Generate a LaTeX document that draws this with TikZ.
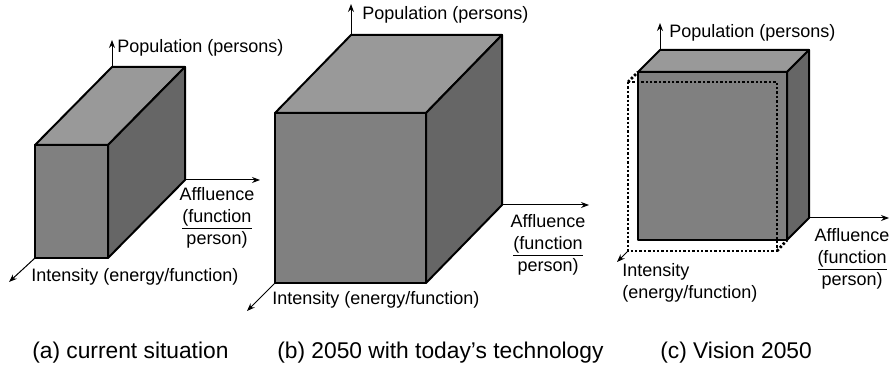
\documentclass[tikz,border=0pt]{standalone}
\usepackage{fontspec}
\setmainfont{Liberation Sans}
\usetikzlibrary{arrows.meta}
\usetikzlibrary{calc}
\usetikzlibrary{positioning}

\definecolor{topgray}{gray}{0.60}
\definecolor{frontgray}{gray}{0.50}
\definecolor{sidegray}{gray}{0.40}

\tikzset{
    edge/.style = {draw = black, line width = 0.5mm, line join = round},
    axis/.style = {line width = 0.25mm, -{Stealth[length = 2mm, width = 1.5mm]}},
    lbl/.style = {inner sep = 0pt, font = \fontsize{12.8}{15.8}\selectfont, align = center},
    capt/.style = {inner sep = 0pt, anchor = base west, font = \fontsize{16.2}{19}\selectfont},
    hint/.style = {line width = 0.7mm, dash pattern = on 0.6mm off 0.5mm}
}

\begin{document}
\begin{tikzpicture}
    [   x = 0.25mm, y = -0.25mm
    ,   > = Stealth
    ]
    \useasboundingbox (0,0) rectangle (891,366);

    % (a) current situation
    \coordinate (aP) at (112,67);
    \coordinate (aA) at (185,180);
    \coordinate (aI) at (35,258);
    \fill[topgray, edge] (35,145) -- (112,67) -- (185,67) -- (108,145) -- cycle;
    \fill[sidegray, edge] (108,145) -- (185,67) -- (185,180) -- (108,258) -- cycle;
    \fill[frontgray, edge] (35,145) rectangle (108,258);
    \coordinate (aPend) at (112,40);
    \coordinate (aAend) at (260,180);
    \coordinate (aIend) at (9,282);
    \draw[axis] (aP) -- (aPend);
    \draw[axis] (aA) -- (aAend);
    \draw[axis] (aI) -- (aIend);
    \node[lbl, anchor = west] (aPop) at (117,48) {Population (persons)};
    \node[lbl, anchor = north] (aAff) at (217,187)
    {Affluence\\\underline{(function}\\person)};
    \node[lbl, anchor = west] (aInt) at (31,277) {Intensity (energy/function)};

    % (b) 2050 with today's technology
    \coordinate (bP) at (351,35);
    \coordinate (bA) at (502,205);
    \coordinate (bI) at (275,283);
    \fill[topgray, edge] (275,113) -- (351,35) -- (502,35) -- (426,113) -- cycle;
    \fill[sidegray, edge] (426,113) -- (502,35) -- (502,205) -- (426,283) -- cycle;
    \fill[frontgray, edge] (275,113) rectangle (426,283);
    \coordinate (bPend) at (351,4);
    \coordinate (bAend) at (589,205);
    \coordinate (bIend) at (247,311);
    \draw[axis] (bP) -- (bPend);
    \draw[axis] (bA) -- (bAend);
    \draw[axis] (bI) -- (bIend);
    \node[lbl, anchor = west] (bPop) at (362,15) {Population (persons)};
    \node[lbl, anchor = north] (bAff) at (548,214)
    {Affluence\\\underline{(function}\\person)};
    \node[lbl, anchor = west] (bInt) at (272,300) {Intensity (energy/function)};

    % (c) Vision 2050
    \coordinate (cP) at (660,50);
    \coordinate (cA) at (809,218);
    \coordinate (cI) at (628,251);
    \fill[topgray, edge] (638,72) -- (660,50) -- (809,50) -- (787,72) -- cycle;
    \fill[sidegray, edge] (787,72) -- (809,50) -- (809,218) -- (787,240) -- cycle;
    \fill[frontgray, edge] (638,72) rectangle (787,240);
    \draw[hint] (628,82) rectangle (777,251);
    \draw[hint] (628,82) -- (638,72);
    \draw[hint] (777,251) -- (787,240);
    \coordinate (cPend) at (660,23);
    \coordinate (cAend) at (889,218);
    \coordinate (cIend) at (617,262);
    \draw[axis] (cP) -- (cPend);
    \draw[axis] (cA) -- (cAend);
    \draw[axis] (cI) -- (cIend);
    \node[lbl, anchor = west] (cPop) at (669,33) {Population (persons)};
    \node[lbl, anchor = north] (cAff) at (852,228)
    {Affluence\\\underline{(function}\\person)};
    \node[lbl, anchor = north west, align = left] (cInt) at (622,263)
    {Intensity\\(energy/function)};

    % captions
    \node[capt] (capA) at (32,358) {(a) current situation};
    \node[capt] (capB) at (277,358) {(b) 2050 with today's technology};
    \node[capt] (capC) at (660,358) {(c) Vision 2050};
\end{tikzpicture}
\end{document}
